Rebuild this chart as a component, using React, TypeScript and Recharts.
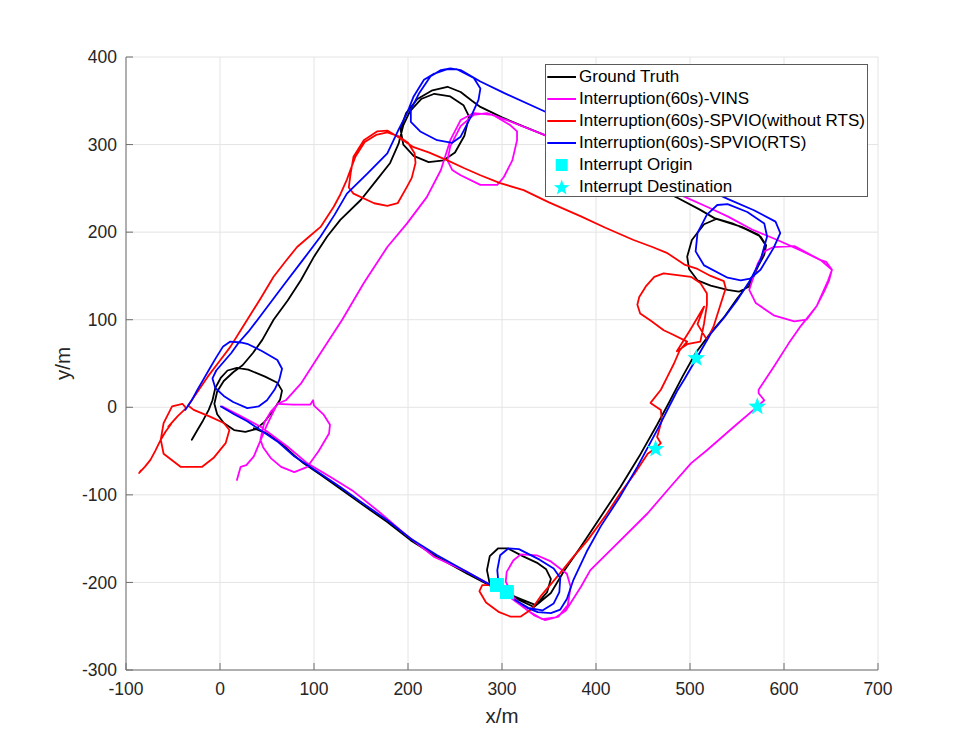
import React from 'react';
import { ScatterChart, Scatter, XAxis, YAxis, CartesianGrid, Legend } from 'recharts';

type Pt = [number, number];

const X_TICKS = [-100, 0, 100, 200, 300, 400, 500, 600, 700];
const Y_TICKS = [-300, -200, -100, 0, 100, 200, 300, 400];

const groundTruth: Pt[] = [
  [-30, -37], [-24, -26], [-18, -15], [-12, -3], [-8, 8], [-5, 22], [1, 34], [8, 42], [18, 45], [30, 43],
  [48, 35], [61, 28], [66, 19], [64, 9], [57, -3], [47, -17], [38, -25], [27, -28], [15, -26], [4, -18],
  [-3, -8], [-6, 4], [-3, 18], [4, 30], [14, 40], [24, 48], [35, 62], [45, 77], [57, 100], [72, 122],
  [86, 145], [100, 172], [114, 195], [128, 214], [150, 237], [167, 260], [181, 279], [190, 301], [195, 322],
  [202, 338], [214, 352], [228, 358], [245, 355], [259, 345], [265, 332], [260, 310], [250, 291], [238, 282],
  [222, 280], [206, 287], [195, 300], [192, 318], [198, 336], [210, 352], [226, 362], [242, 366], [256, 360],
  [268, 350], [277, 343], [300, 331], [322, 321], [345, 311], [380, 293], [420, 272], [455, 255], [487, 239],
  [510, 226], [526, 216], [545, 210], [560, 203], [575, 195], [581, 185], [579, 174], [572, 160], [563, 138],
  [552, 132], [540, 134], [522, 139], [508, 145], [499, 158], [497, 172], [502, 191], [515, 209], [528, 215],
  [555, 206], [573, 197], [580, 186], [577, 172], [571, 158], [563, 142], [550, 124], [537, 104], [522, 85],
  [506, 62], [492, 35], [478, 6], [465, -20], [446, -56], [426, -91], [405, -125], [384, -159], [366, -187],
  [352, -212], [334, -228], [318, -220], [302, -212], [287, -202], [284, -186], [287, -170], [296, -161],
  [306, -161], [322, -170], [338, -178], [347, -185], [352, -196], [348, -211], [336, -226], [320, -219],
  [302, -211], [288, -204], [263, -190], [231, -171], [203, -152], [178, -131], [150, -110], [128, -93],
  [107, -77], [89, -64], [79, -55], [65, -41], [50, -30], [36, -24],
];

const vins: Pt[] = [
  [2, 1], [20, -9], [43, -22], [58, -34], [72, -45], [93, -64], [118, -80], [142, -96], [170, -120], [196, -144],
  [228, -171], [263, -188], [288, -203], [302, -212], [320, -226], [335, -238], [346, -243], [360, -239],
  [370, -226], [373, -205], [369, -190], [352, -176], [337, -169], [320, -168], [312, -175], [305, -188],
  [304, -199], [313, -218], [327, -232], [343, -242], [357, -240], [368, -232], [384, -205], [394, -186],
  [423, -155], [455, -121], [479, -91], [501, -64], [518, -49], [547, -22], [572, 1], [579, 8], [573, 16],
  [573, 20], [589, 46], [605, 73], [618, 93], [627, 105], [635, 116], [643, 133], [648, 145], [651, 157],
  [645, 166], [639, 168], [611, 184], [589, 183], [579, 178], [572, 164], [563, 134], [570, 119], [589, 105],
  [611, 98], [624, 100], [635, 116], [647, 145], [651, 157], [639, 168], [620, 178], [593, 191], [566, 203],
  [540, 218], [518, 229], [495, 240], [460, 258], [420, 278], [380, 296], [345, 311], [310, 326], [284, 336],
  [270, 334], [256, 321], [245, 298], [242, 282], [247, 271], [256, 265], [277, 254], [295, 254], [302, 263],
  [311, 282], [316, 305], [316, 315], [309, 322], [290, 334], [270, 336], [256, 328], [245, 305], [235, 271],
  [220, 240], [199, 210], [178, 183], [153, 142], [130, 100], [107, 62], [86, 27], [70, 8], [61, 4], [78, 3],
  [96, 3], [99, 8], [100, 2], [110, -8], [117, -20], [116, -30], [105, -50], [93, -68], [79, -74], [65, -68],
  [54, -58], [46, -46], [43, -37], [47, -18], [54, -5], [60, 2], [50, -20], [43, -38], [36, -56], [28, -66],
  [22, -68], [18, -83],
];

const spvioNoRts: Pt[] = [
  [288, -203], [279, -203], [276, -210], [283, -223], [297, -234], [309, -239], [320, -239], [332, -230],
  [341, -216], [359, -193], [375, -172], [391, -152], [410, -124], [426, -98], [441, -76], [455, -53],
  [463, -47], [469, -41], [465, -34], [470, -15], [469, -3], [458, 5], [469, 20], [476, 35], [483, 50],
  [489, 65], [497, 75], [480, 84], [472, 88], [458, 99], [447, 107], [444, 117], [446, 126], [453, 138],
  [462, 149], [472, 153], [501, 149], [511, 142], [518, 130], [518, 117], [515, 96], [511, 75], [497, 72],
  [486, 64], [500, 88], [515, 115], [508, 95], [518, 77], [525, 92], [533, 119], [538, 136], [536, 144],
  [522, 150], [508, 158], [494, 163], [476, 176], [460, 183], [440, 191], [410, 205], [384, 218], [350, 234],
  [323, 248], [298, 256], [277, 265], [260, 273], [242, 282], [222, 291], [206, 297], [189, 309], [178, 316],
  [167, 315], [153, 305], [142, 286], [139, 267], [137, 251], [142, 244], [164, 233], [178, 230], [189, 233],
  [199, 252], [204, 262], [208, 279], [207, 290], [200, 302], [189, 310], [178, 314], [166, 311], [154, 303],
  [144, 286], [138, 269], [135, 260], [128, 243], [121, 229], [107, 206], [95, 195], [82, 183], [70, 167],
  [57, 149], [43, 124], [29, 100], [22, 88], [11, 69], [-1, 52], [-13, 35], [-25, 16], [-34, 2], [-28, -3],
  [-10, -11], [4, -18], [10, -26], [6, -41], [-7, -58], [-19, -68], [-42, -68], [-60, -53], [-63, -37],
  [-60, -18], [-51, 1], [-40, 4], [-36, -1], [-45, -10], [-55, -22], [-52, -19], [-58, -28], [-63, -37],
  [-69, -50], [-74, -60], [-80, -68], [-86, -75], [-84, -72],
];

const spvioRts: Pt[] = [
  [1, 1], [15, -8], [29, -16], [43, -26], [61, -39], [79, -56], [93, -66], [107, -76], [128, -91], [150, -108],
  [178, -129], [203, -150], [231, -169], [263, -188], [290, -204], [296, -198], [295, -186], [298, -169],
  [307, -161], [318, -162], [340, -174], [355, -184], [362, -195], [361, -211], [355, -224], [343, -232],
  [328, -229], [314, -220], [327, -229], [338, -234], [352, -235], [362, -231], [369, -219], [376, -197],
  [390, -165], [405, -136], [425, -103], [444, -68], [466, -24], [486, 18], [494, 32], [507, 56], [522, 84],
  [536, 102], [550, 122], [564, 145], [575, 168], [582, 195], [579, 210], [561, 223], [540, 232], [529, 231],
  [518, 220], [508, 199], [506, 178], [515, 162], [540, 148], [554, 145], [564, 147], [575, 157], [589, 182],
  [596, 199], [591, 212], [568, 225], [540, 238], [500, 258], [460, 278], [420, 298], [380, 319], [345, 338],
  [302, 359], [277, 372], [256, 385], [245, 387], [235, 385], [224, 378], [212, 359], [203, 340], [203, 326],
  [213, 315], [231, 305], [247, 302], [256, 309], [267, 332], [275, 351], [277, 364], [270, 376], [252, 386],
  [242, 386], [228, 381], [217, 374], [206, 355], [199, 336], [190, 317], [178, 290], [157, 267], [135, 244],
  [122, 220], [107, 195], [88, 168], [68, 140], [54, 120], [40, 100], [30, 86], [20, 74], [12, 62], [4, 52],
  [-4, 42], [-8, 33], [-5, 22], [4, 13], [14, 6], [29, -1], [41, 1], [50, 8], [58, 20], [63, 31], [66, 44],
  [61, 54], [45, 64], [30, 72], [22, 74], [11, 75], [3, 69], [-4, 57], [-10, 46], [-17, 33], [-24, 20],
  [-30, 8], [-37, -3],
];

const interruptOrigin: Pt[] = [[294.6, -202.9], [305.2, -211]];
const interruptDestination: Pt[] = [[506.7, 56], [463.4, -47.6], [571.6, 0.7]];

const LINE_SERIES = [
  { name: 'Ground Truth', color: '#000000', points: groundTruth },
  { name: 'Interruption(60s)-VINS', color: '#ff00ff', points: vins },
  { name: 'Interruption(60s)-SPVIO(without RTS)', color: '#ff0000', points: spvioNoRts },
  { name: 'Interruption(60s)-SPVIO(RTS)', color: '#0000ff', points: spvioRts },
];

const FONT = '"Liberation Sans", Arial, Helvetica, sans-serif';
const AXIS = '#6e6e6e';
const CYAN = '#00ffff';

const toRows = (pts: Pt[]) => pts.map(([x, y]) => ({ x, y }));

const starPoints = (cx: number, cy: number, R: number, r: number) => {
  const out: string[] = [];
  for (let i = 0; i < 10; i++) {
    const a = -Math.PI / 2 + (i * Math.PI) / 5;
    const rad = i % 2 === 0 ? R : r;
    out.push(`${cx + rad * Math.cos(a)},${cy + rad * Math.sin(a)}`);
  }
  return out.join(' ');
};

const NoPoint = () => <g />;
const StarShape = (p: any) => <polygon points={starPoints(p.cx, p.cy, 9.3, 3.9)} fill={CYAN} />;
const SquareShape = (p: any) => <rect x={p.cx - 7} y={p.cy - 7} width={14} height={14} fill={CYAN} />;

const LegendBox = () => (
  <div
    style={{
      width: 323,
      height: 133,
      boxSizing: 'border-box',
      border: '1px solid #5a5a5a',
      background: '#ffffff',
      fontFamily: FONT,
      fontSize: 17,
      color: '#000',
      paddingTop: 1,
    }}
  >
    {LINE_SERIES.map((s) => (
      <div key={s.name} style={{ height: 22, display: 'flex', alignItems: 'center' }}>
        <svg width={33} height={22} style={{ flex: 'none' }}>
          <line x1={1.3} x2={30} y1={11} y2={11} stroke={s.color} strokeWidth={2} />
        </svg>
        <span style={{ lineHeight: '22px', whiteSpace: 'nowrap' }}>{s.name}</span>
      </div>
    ))}
    <div style={{ height: 22, display: 'flex', alignItems: 'center' }}>
      <svg width={33} height={22} style={{ flex: 'none' }}>
        <rect x={15.7 - 6} y={11 - 6} width={12} height={12} fill={CYAN} />
      </svg>
      <span style={{ lineHeight: '22px', whiteSpace: 'nowrap' }}>Interrupt Origin</span>
    </div>
    <div style={{ height: 22, display: 'flex', alignItems: 'center' }}>
      <svg width={33} height={22} style={{ flex: 'none' }}>
        <polygon points={starPoints(15.7, 11.8, 8.2, 3.4)} fill={CYAN} />
      </svg>
      <span style={{ lineHeight: '22px', whiteSpace: 'nowrap' }}>Interrupt Destination</span>
    </div>
  </div>
);

export default function App() {
  return (
    <div style={{ position: 'absolute', left: 0, top: 0, width: 969, height: 753, background: '#ffffff' }}>
      <ScatterChart width={969} height={753} margin={{ top: 57, right: 91, bottom: 0, left: 0 }}>
        <CartesianGrid stroke="#e4e4e4" strokeWidth={1} />
        <XAxis
          type="number"
          dataKey="x"
          domain={[-100, 700]}
          ticks={X_TICKS}
          interval={0}
          allowDataOverflow
          height={83}
          axisLine={{ stroke: AXIS, strokeWidth: 1 }}
          tickLine={{ stroke: AXIS }}
          tickSize={-7}
          tickMargin={20}
          tick={{ fill: '#262626', fontSize: 17.5, fontFamily: FONT }}
          label={{ value: 'x/m', position: 'insideBottom', offset: 30, fill: '#262626', fontSize: 20.5, fontFamily: FONT }}
        />
        <YAxis
          type="number"
          dataKey="y"
          domain={[-300, 400]}
          ticks={Y_TICKS}
          interval={0}
          allowDataOverflow
          width={126}
          axisLine={{ stroke: AXIS, strokeWidth: 1 }}
          tickLine={{ stroke: AXIS }}
          tickSize={-7}
          tickMargin={16}
          tick={{ fill: '#262626', fontSize: 17.5, fontFamily: FONT }}
          label={{
            value: 'y/m',
            angle: -90,
            position: 'insideLeft',
            offset: 63,
            fill: '#262626',
            fontSize: 20.5,
            fontFamily: FONT,
            style: { textAnchor: 'middle' },
          }}
        />
        {LINE_SERIES.map((s) => (
          <Scatter
            key={s.name}
            name={s.name}
            data={toRows(s.points)}
            fill="none"
            line={{ stroke: s.color, strokeWidth: 1.8, strokeLinejoin: 'round', strokeLinecap: 'round' }}
            lineType="joint"
            shape={NoPoint}
            legendType="none"
            isAnimationActive={false}
          />
        ))}
        <Scatter name="Interrupt Origin" data={toRows(interruptOrigin)} fill={CYAN} shape={SquareShape} legendType="none" isAnimationActive={false} />
        <Scatter name="Interrupt Destination" data={toRows(interruptDestination)} fill={CYAN} shape={StarShape} legendType="none" isAnimationActive={false} />
        <Legend
          layout="vertical"
          align="center"
          verticalAlign="middle"
          content={LegendBox}
          wrapperStyle={{ left: 545, top: 64, width: 323, height: 133 }}
        />
      </ScatterChart>
    </div>
  );
}
